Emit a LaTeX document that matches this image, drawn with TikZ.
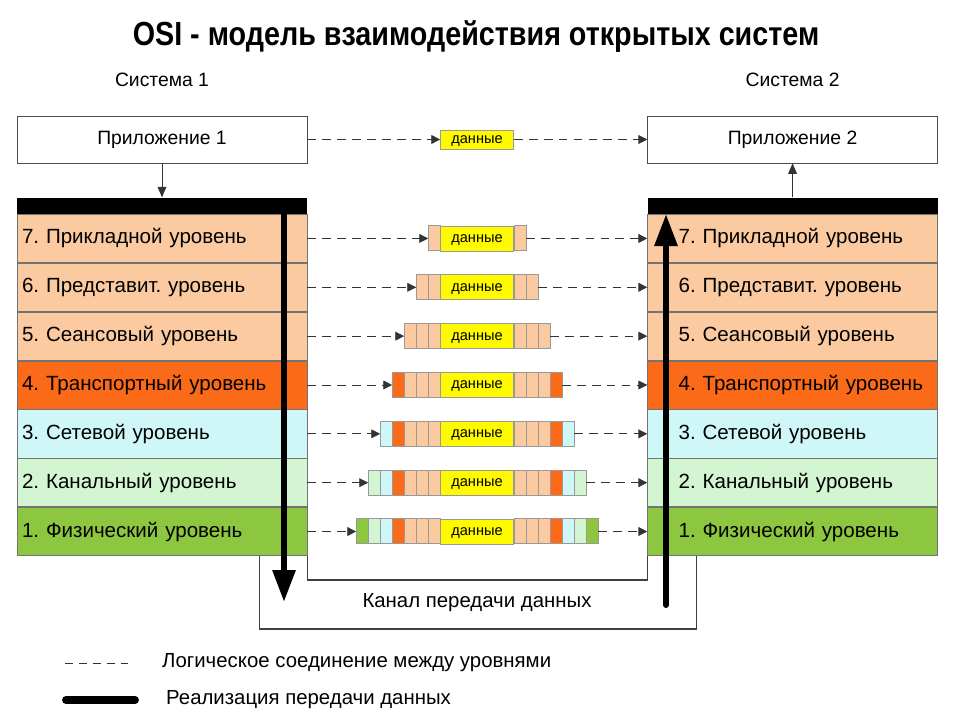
\documentclass[tikz,border=0pt]{standalone}
\usepackage{fontspec}
\setmainfont{Liberation Sans}
\newfontfamily\headfont{Liberation Sans}[FakeStretch=0.86]
\usetikzlibrary{positioning, arrows.meta}
\definecolor{peach}{RGB}{251, 202, 160}
\definecolor{transp}{RGB}{250, 106, 25}
\definecolor{netw}{RGB}{208, 247, 248}
\definecolor{link}{RGB}{212, 245, 210}
\definecolor{phys}{RGB}{141, 198, 63}
\definecolor{payload}{RGB}{255, 250, 0}
\colorlet{cellc1}{peach}
\colorlet{cellc2}{peach}
\colorlet{cellc3}{peach}
\colorlet{cellc4}{transp}
\colorlet{cellc5}{netw}
\colorlet{cellc6}{link}
\colorlet{cellc7}{phys}
\frenchspacing

\tikzset{
  layer/.style={draw=black!55, rectangle, minimum width=5.8cm, minimum height=0.963cm, text width=5.6cm, inner xsep=0.1cm, align=left, font=\fontsize{11.7}{14}\selectfont},
  rlayer/.style={layer, execute at begin node=\hspace*{0.52cm}},
  app/.style={draw=black!70, rectangle, minimum width=5.8cm, minimum height=0.94cm, font=\fontsize{11}{13}\selectfont},
  bar/.style={fill=black, minimum width=5.8cm, minimum height=0.32cm, inner sep=0pt},
  databox/.style={draw=black!40, fill=payload, minimum width=1.46cm, minimum height=0.5cm, inner sep=0pt, text depth=0pt, font=\fontsize{8.3}{10}\selectfont},
  cell/.style={draw=black!40, line width=0.3pt},
  logic/.style={black!80, dash pattern=on 5pt off 3.5pt, -{Triangle[length=5pt, width=5pt]}},
  transfer/.style={line width=3.4pt, -{Triangle[length=0.64cm, width=0.44cm]}},
  label/.style={font=\fontsize{11.6}{14}\selectfont},
}

\begin{document}
\begin{tikzpicture}[x=0.02cm, y=-0.02cm]
\useasboundingbox (0,0) rectangle (956,712);

\node[font=\headfont\bfseries\fontsize{19}{22}\selectfont] (title) at (476,37) {OSI - модель взаимодействия открытых систем};

% applications
\node[app] (app1) at (162,139.5) {Приложение 1};
\node[app, right=6.8cm of app1] (app2) {Приложение 2};
\node[font=\fontsize{11}{13}\selectfont, above=0.45cm of app1] (sys1) {Система 1};
\node[font=\fontsize{11}{13}\selectfont, above=0.45cm of app2] (sys2) {Система 2};

% system 1
\node[bar, below=0.68cm of app1] (bar1) {};
\node[layer, fill=peach, below=0pt of bar1] (a7) {7. Прикладной уровень};
\node[layer, fill=peach, below=0pt of a7] (a6) {6. Представит. уровень};
\node[layer, fill=peach, below=0pt of a6] (a5) {5. Сеансовый уровень};
\node[layer, fill=transp, below=0pt of a5] (a4) {4. Транспортный уровень};
\node[layer, fill=netw, below=0pt of a4] (a3) {3. Сетевой уровень};
\node[layer, fill=link, below=0pt of a3] (a2) {2. Канальный уровень};
\node[layer, fill=phys, below=0pt of a2] (a1) {1. Физический уровень};

% system 2
\node[bar, below=0.68cm of app2] (bar2) {};
\node[rlayer, fill=peach, below=0pt of bar2] (b7) {7. Прикладной уровень};
\node[rlayer, fill=peach, below=0pt of b7] (b6) {6. Представит. уровень};
\node[rlayer, fill=peach, below=0pt of b6] (b5) {5. Сеансовый уровень};
\node[rlayer, fill=transp, below=0pt of b5] (b4) {4. Транспортный уровень};
\node[rlayer, fill=netw, below=0pt of b4] (b3) {3. Сетевой уровень};
\node[rlayer, fill=link, below=0pt of b3] (b2) {2. Канальный уровень};
\node[rlayer, fill=phys, below=0pt of b2] (b1) {1. Физический уровень};

\draw[black!80, -{Triangle[length=6pt, width=5pt]}] (app1) -- (bar1);
\draw[black!80, -{Triangle[length=6pt, width=5pt]}] (bar2) -- (app2);

% packets
\coordinate (mid) at (477,0);
\node[databox, minimum height=0.38cm] (d0) at (app1 -| mid) {данные};
\draw[logic] (app1) -- (d0);
\draw[logic] (d0) -- (app2);
\foreach \i in {1,...,7}{
  \pgfmathtruncatemacro\n{8-\i}
  \node[minimum width={(73+24*\n)*0.02cm}, minimum height=0.5cm, inner sep=0pt] (p\i) at (a\i -| mid) {};
  \node[databox] (d\i) at (p\i) {данные};
  \foreach \k in {1,...,\n}{
    \draw[cell, fill=cellc\k] ([xshift={-\k*0.24cm}]d\i.north west) rectangle ++(12,25);
    \draw[cell, fill=cellc\k] ([xshift={(\k-1)*0.24cm}]d\i.north east) rectangle ++(12,25);
  }
  \draw[logic] (a\i) -- (p\i);
  \draw[logic] (p\i) -- (b\i);
}

% channel
\draw[black!75, thick] (a1.south east) -- ++(0,24) -| (b1.south west);
\draw[black!75, thick] ([xshift=-0.96cm]a1.south east) -- ++(0,73) -| ([xshift=0.98cm]b1.south west);
\node[label] (chan) at (477,603) {Канал передачи данных};

\coordinate (sendend) at (284,602);
\coordinate (recvstart) at (666,605);
\draw[transfer] (bar1 -| sendend) -- (sendend);
\draw[transfer, line cap=round] (recvstart) -- (b7.north -| recvstart);

% legend
\node[label, anchor=west] (logictext) at (156,663) {Логическое соединение между уровнями};
\node[label, anchor=west] (realtext) at (160,700) {Реализация передачи данных};
\draw[black!80, dash pattern=on 4.5pt off 3.4pt] (logictext.west) ++(-91,0) -- ++(67,0);
\draw[line width=4.5pt, line cap=round] (realtext.west) ++(-94,0) -- ++(69,0);
\end{tikzpicture}
\end{document}
